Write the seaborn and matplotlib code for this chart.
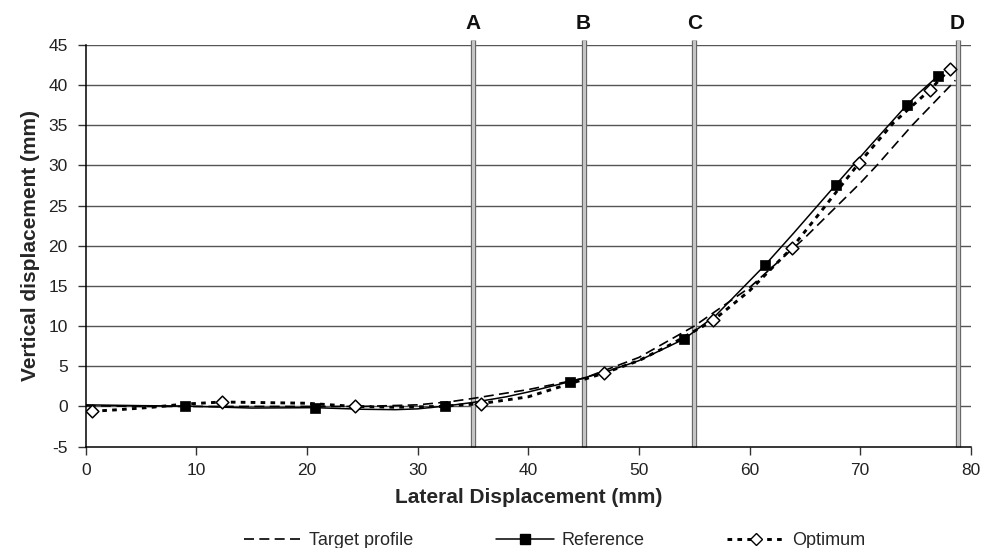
import numpy as np
import pandas as pd
import matplotlib
matplotlib.use("Agg")
import matplotlib.pyplot as plt
import matplotlib.patheffects as pe
from matplotlib.lines import Line2D
import seaborn as sns

# ---------------- data ----------------
target_x = [0, 5, 10, 15, 20, 25, 30, 33, 35, 40, 45, 50, 55, 60, 65, 70, 71.5, 74.7, 78.2, 78.6]
target_y = [0.1, 0.0, 0.0, 0.0, 0.0, 0.0, 0.2, 0.6, 1.0, 2.1, 3.5, 6.1, 10.0, 14.8, 21.0, 27.8, 30.0, 35.0, 40.0, 40.6]

ref_line_x = [0, 5, 9, 15, 20.7, 25, 28, 30, 32.5, 35, 38, 40, 43.8, 47, 50, 54.1, 57, 61.4, 64, 67.8, 71, 74.2, 75.3, 77.0]
ref_line_y = [0.2, 0.1, 0.05, -0.2, -0.15, -0.35, -0.4, -0.3, 0.05, 0.5, 1.2, 1.8, 3.1, 4.3, 5.7, 8.4, 11.4, 17.6, 21.6, 27.6, 32.6, 37.5, 39.0, 41.1]
ref_mark_x = [9.0, 20.7, 32.5, 43.8, 54.1, 61.4, 67.8, 74.2, 77.0]
ref_mark_y = [0.05, -0.15, 0.05, 3.1, 8.4, 17.6, 27.6, 37.5, 41.1]

opt_line_x = [0.6, 3, 6, 9, 12.3, 15, 20, 24.3, 28, 32, 35.7, 40, 43, 46.85, 50, 53, 56.7, 60, 63.8, 66.3, 69.9, 73, 76.3, 78.1]
opt_line_y = [-0.6, -0.4, -0.1, 0.3, 0.55, 0.5, 0.4, 0.0, -0.1, 0.0, 0.35, 1.2, 2.5, 4.15, 5.7, 7.8, 10.7, 14.4, 19.7, 24.0, 30.3, 35.3, 39.4, 42.0]
opt_mark_x = [0.6, 12.3, 24.3, 35.7, 46.85, 56.7, 63.8, 69.9, 76.3, 78.1]
opt_mark_y = [-0.6, 0.55, 0.0, 0.35, 4.15, 10.7, 19.7, 30.3, 39.4, 42.0]

section_x = [35.0, 45.0, 55.0, 78.8]
section_labels = ["A", "B", "C", "D"]

x_ticks = [0, 10, 20, 30, 40, 50, 60, 70, 80]
y_ticks = [-5, 0, 5, 10, 15, 20, 25, 30, 35, 40, 45]

# ---------------- style ----------------
sns.set_theme(style="white")
plt.rcParams["font.family"] = ["Liberation Sans", "DejaVu Sans"]
plt.rcParams["axes.unicode_minus"] = False

TARGET_LS = (0, (6, 3.2))
OPT_LS = (0, (1.6, 1.8))

fig = plt.figure(figsize=(9.99, 5.48), dpi=100)
ax = fig.add_axes([0.0858, 0.185, 0.886, 0.733])

# horizontal grid
for yv in y_ticks[1:]:
    ax.axhline(yv, color="#555555", lw=1.0, zorder=1)

# section bars
for xv, lab in zip(section_x, section_labels):
    ax.axvline(xv, ymin=0, ymax=1.012, color="#c4c4c4", lw=2.2, clip_on=False, zorder=2,
               solid_capstyle="butt",
               path_effects=[pe.Stroke(linewidth=3.8, foreground="#666666"), pe.Normal()])
    ax.text(xv, 1.054, lab, transform=ax.get_xaxis_transform(), ha="center", va="center",
            fontsize=15, fontweight="bold", color="#111111")

df_t = pd.DataFrame({"x": target_x, "y": target_y})
df_r = pd.DataFrame({"x": ref_line_x, "y": ref_line_y})
df_o = pd.DataFrame({"x": opt_line_x, "y": opt_line_y})

sns.lineplot(data=df_t, x="x", y="y", ax=ax, sort=False, estimator=None, color="black",
             lw=1.2, linestyle=TARGET_LS, zorder=3)
sns.lineplot(data=df_r, x="x", y="y", ax=ax, sort=False, estimator=None, color="black",
             lw=1.1, zorder=4)
sns.lineplot(data=df_o, x="x", y="y", ax=ax, sort=False, estimator=None, color="black",
             lw=2.1, linestyle=OPT_LS, zorder=3)

sns.scatterplot(x=ref_mark_x, y=ref_mark_y, ax=ax, marker="s", s=55, color="black",
                edgecolor="black", linewidth=0.5, zorder=5)
sns.scatterplot(x=opt_mark_x, y=opt_mark_y, ax=ax, marker="D", s=42, color="white",
                edgecolor="black", linewidth=1.1, zorder=6)

ax.set_xlim(0, 80)
ax.set_ylim(-5, 45)
ax.set_xticks(x_ticks)
ax.set_yticks(y_ticks)
ax.tick_params(axis="both", direction="out", length=6, width=1, color="#333333",
               labelsize=12.5, labelcolor="#222222", bottom=True, left=True)
ax.tick_params(axis="x", pad=6)
ax.tick_params(axis="y", pad=7)
for s in ["top", "right"]:
    ax.spines[s].set_visible(False)
for s in ["left", "bottom"]:
    ax.spines[s].set_color("black")
    ax.spines[s].set_linewidth(1.1)

ax.set_xlabel("Lateral Displacement (mm)", fontsize=15, fontweight="bold", labelpad=7)
ax.set_ylabel("Vertical displacement (mm)", fontsize=15, fontweight="bold", labelpad=6)

handles = [
    Line2D([], [], color="black", lw=1.2, linestyle=TARGET_LS),
    Line2D([], [], color="black", lw=1.1, marker="s", markersize=7),
    Line2D([], [], color="black", lw=2.1, linestyle=OPT_LS, marker="D", markersize=6,
           markerfacecolor="white", markeredgecolor="black"),
]
fig.legend(handles, ["Target profile", "Reference", "Optimum"], loc="center",
           bbox_to_anchor=(0.555, 0.013), ncol=3, frameon=False, fontsize=13,
           handlelength=3.2, columnspacing=4.6, handletextpad=0.4)

fig.savefig("out.png", dpi=100)
